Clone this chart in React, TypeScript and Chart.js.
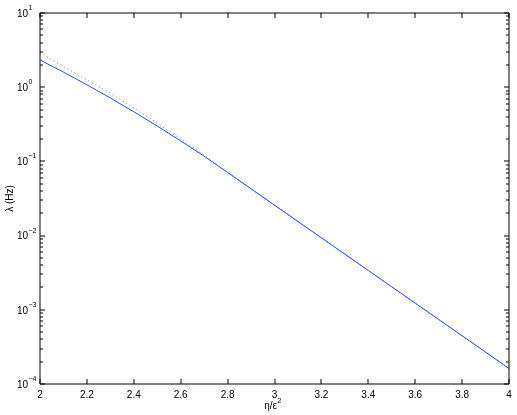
import React, { useEffect, useRef } from "react";
import { Chart, registerables } from "chart.js";

Chart.register(...registerables);

const xValues = [2.0, 2.1, 2.2, 2.3, 2.4, 2.5, 2.6, 2.7, 2.8, 2.9, 3.0, 3.1, 3.2, 3.3, 3.4, 3.5, 3.6, 3.7, 3.8, 3.9, 4.0];
const solidValues = [2.33, 1.597, 1.078, 0.715, 0.467, 0.2997, 0.189, 0.1175, 0.0708, 0.0427, 0.0257, 0.01549, 0.00933, 0.00562, 0.00339, 0.00204, 0.00123, 0.000741, 0.000447, 0.000269, 0.000162];
const dottedValues = [2.933, 1.899, 1.26, 0.829, 0.526, 0.327, 0.201, 0.1216, 0.0718, 0.0429, 0.0257, 0.01549, 0.00933, 0.00562, 0.00339, 0.00204, 0.00123, 0.000741, 0.000447, 0.000269, 0.000162];
const xTicks = [2, 2.2, 2.4, 2.6, 2.8, 3, 3.2, 3.4, 3.6, 3.8, 4];
const yExponents = [-4, -3, -2, -1, 0, 1];
const xTitle = "η/ε";
const xTitleSup = "2";
const yTitle = "λ (Hz)";

const FONT = "'Liberation Sans', Arial, Helvetica, sans-serif";

const axesPlugin = {
  id: "matlabAxes",
  afterDraw(chart: any) {
    const ctx = chart.ctx;
    const { left, right, top, bottom } = chart.chartArea;
    const xs = chart.scales.x;
    const ys = chart.scales.y;
    ctx.save();
    ctx.strokeStyle = "#000";
    ctx.lineWidth = 1;
    const L = Math.round(left), R = Math.round(right), T = Math.round(top), B = Math.round(bottom);
    ctx.beginPath();
    ctx.rect(L, T, R - L, B - T);
    ctx.stroke();
    // x ticks
    ctx.beginPath();
    for (const v of xTicks) {
      const px = Math.round(xs.getPixelForValue(v));
      ctx.moveTo(px, B); ctx.lineTo(px, B - 5);
      ctx.moveTo(px, T); ctx.lineTo(px, T + 5);
    }
    // y ticks
    for (const e of yExponents) {
      const py = Math.round(ys.getPixelForValue(Math.pow(10, e)));
      ctx.moveTo(L, py); ctx.lineTo(L + 5, py);
      ctx.moveTo(R, py); ctx.lineTo(R - 5, py);
      if (e < 1) {
        for (let m = 2; m <= 9; m++) {
          const pm = Math.round(ys.getPixelForValue(m * Math.pow(10, e)));
          ctx.moveTo(L, pm); ctx.lineTo(L + 3, pm);
          ctx.moveTo(R, pm); ctx.lineTo(R - 3, pm);
        }
      }
    }
    ctx.stroke();
    // y tick labels
    ctx.fillStyle = "#000";
    for (const e of yExponents) {
      const py = ys.getPixelForValue(Math.pow(10, e));
      ctx.font = `10px ${FONT}`;
      ctx.textAlign = "right";
      ctx.textBaseline = "middle";
      ctx.fillText("10", 28, py + 1);
      ctx.font = `7px ${FONT}`;
      ctx.textAlign = "left";
      ctx.fillText(e < 0 ? "\u2212" + Math.abs(e) : String(e), 28.5, py - 5);
    }
    // x title
    ctx.font = `10px ${FONT}`;
    ctx.textAlign = "left";
    ctx.textBaseline = "alphabetic";
    const cx = (left + right) / 2;
    const w = ctx.measureText(xTitle).width;
    ctx.font = `7px ${FONT}`;
    const w2 = ctx.measureText(xTitleSup).width;
    const startX = cx - (w + w2) / 2 - 2;
    ctx.font = `10px ${FONT}`;
    ctx.fillText(xTitle, startX, 409);
    ctx.font = `7px ${FONT}`;
    ctx.fillText(xTitleSup, startX + w + 0.5, 403);
    // y title
    ctx.translate(10, (top + bottom) / 2);
    ctx.rotate(-Math.PI / 2);
    ctx.font = `10px ${FONT}`;
    ctx.textAlign = "center";
    ctx.textBaseline = "middle";
    ctx.fillText(yTitle, 0, 0);
    ctx.restore();
  },
};

export default function App() {
  const ref = useRef<HTMLCanvasElement>(null);
  useEffect(() => {
    document.body.style.margin = "0";
    const chart = new Chart(ref.current as HTMLCanvasElement, {
      type: "line",
      data: {
        datasets: [
          {
            data: xValues.map((x, i) => ({ x, y: dottedValues[i] })),
            borderColor: "rgba(40,70,255,0.75)",
            borderWidth: 1,
            borderDash: [1, 3],
            pointRadius: 0,
            tension: 0,
          },
          {
            data: xValues.map((x, i) => ({ x, y: solidValues[i] })),
            borderColor: "#2a4bff",
            borderWidth: 1,
            pointRadius: 0,
            tension: 0,
          },
        ],
      },
      options: {
        animation: false,
        responsive: false,
        events: [],
        layout: { padding: { top: 13, right: 8, left: 0, bottom: 0 } },
        plugins: { legend: { display: false }, tooltip: { enabled: false } },
        scales: {
          x: {
            type: "linear",
            min: 2,
            max: 4,
            afterFit: (s: any) => { s.height = 31; },
            afterBuildTicks: (s: any) => { s.ticks = xTicks.map((v) => ({ value: v })); },
            grid: { display: false, drawTicks: false },
            border: { display: false },
            ticks: {
              color: "#000",
              padding: 5,
              maxRotation: 0,
              autoSkip: false,
              font: { family: FONT, size: 10 },
              callback: (v: any) => String(Math.round(Number(v) * 10) / 10),
            },
          },
          y: {
            type: "logarithmic",
            min: 1e-4,
            max: 10,
            afterFit: (s: any) => { s.width = 40; },
            grid: { display: false },
            border: { display: false },
            ticks: { display: false },
          },
        },
      },
      plugins: [axesPlugin],
    });
    return () => chart.destroy();
  }, []);
  return (
    <div style={{ width: 517, height: 415, background: "#fff" }}>
      <canvas ref={ref} width={517} height={415} style={{ display: "block" }} />
    </div>
  );
}
